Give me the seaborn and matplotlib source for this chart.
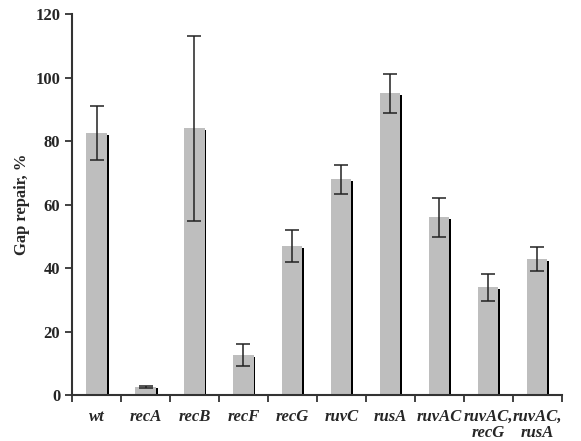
import numpy as np
import pandas as pd
import matplotlib
matplotlib.use("Agg")
import matplotlib.pyplot as plt
import seaborn as sns

# strains and gap repair values (%)
strains = ["wt", "recA", "recB", "recF", "recG", "ruvC", "rusA", "ruvAC",
           "ruvAC,\nrecG", "ruvAC,\nrusA"]
repair = [82.5, 2.7, 84.0, 12.7, 47.0, 68.0, 95.0, 56.0, 34.0, 43.0]
err = [8.5, 0.3, 29.0, 3.5, 5.0, 4.5, 6.0, 6.2, 4.2, 3.8]

df = pd.DataFrame({"strain": strains, "repair": repair})

sns.set_style("ticks")
plt.rcParams["font.family"] = ["Liberation Serif", "DejaVu Serif"]

fig = plt.figure(figsize=(5.81, 4.41), dpi=100)
ax = fig.add_axes([0.124, 0.104, 0.843, 0.864])

# black shadow behind each bar
pos = np.arange(len(strains))
ax.bar(pos + 0.045, np.array(repair) - 0.6, width=0.4, color="black",
       linewidth=0, zorder=1)
sns.barplot(data=df, x="strain", y="repair", color="#bebebe", width=0.41,
            saturation=1, errorbar=None, linewidth=0, ax=ax, zorder=2)
ax.errorbar(pos, repair, yerr=err, fmt="none", ecolor="#222222",
            elinewidth=1.1, capsize=5, capthick=1.1, zorder=3)

ax.set_xlim(-0.5, len(strains) - 0.5)
ax.set_ylim(0, 120)
ax.set_yticks(range(0, 121, 20))
ax.set_xlabel("")
ax.set_ylabel("Gap repair, %", fontsize=12, fontweight="bold", labelpad=4)

ax.set_xticks(pos)
ax.set_xticklabels(strains, fontsize=12, fontweight="bold", fontstyle="italic",
                   linespacing=1.0, va="top")
ax.set_xticks(np.arange(-0.5, len(strains)), minor=True)
ax.tick_params(axis="x", which="major", length=0, pad=10)
ax.tick_params(axis="x", which="minor", length=5, width=1.3, color="#333333")
ax.tick_params(axis="y", length=5, width=1.3, color="#333333", labelsize=12)
for t in ax.get_yticklabels():
    t.set_fontweight("bold")

for s in ["top", "right"]:
    ax.spines[s].set_visible(False)
for s in ["left", "bottom"]:
    ax.spines[s].set_linewidth(1.5)
    ax.spines[s].set_color("#333333")

fig.savefig("out.png", dpi=100)
